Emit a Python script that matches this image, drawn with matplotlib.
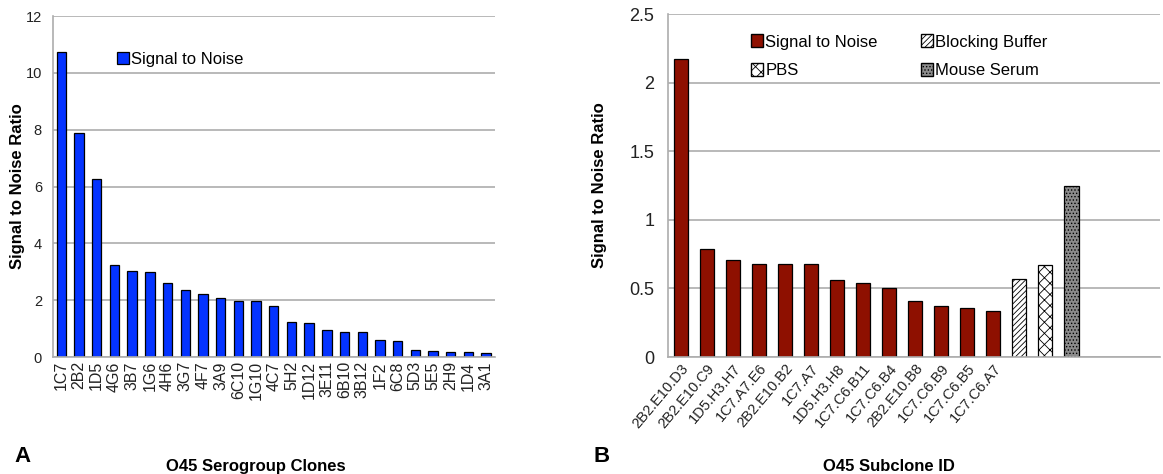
import numpy as np
import matplotlib
matplotlib.use('Agg')
import matplotlib.pyplot as plt
from matplotlib.patches import Patch

plt.rcParams['font.family'] = ['Liberation Sans', 'DejaVu Sans']
plt.rcParams['hatch.linewidth'] = 0.6

# panel A data
clones = ['1C7', '2B2', '1D5', '4G6', '3B7', '1G6', '4H6', '3G7', '4F7', '3A9',
          '6C10', '1G10', '4C7', '5H2', '1D12', '3E11', '6B10', '3B12', '1F2',
          '6C8', '5D3', '5E5', '2H9', '1D4', '3A1']
clone_snr = [10.75, 7.88, 6.28, 3.24, 3.04, 3.0, 2.61, 2.35, 2.23, 2.07,
             1.98, 1.98, 1.81, 1.22, 1.18, 0.94, 0.87, 0.88, 0.6,
             0.56, 0.26, 0.21, 0.19, 0.19, 0.13]

# panel B data
subclones = ['2B2.E10.D3', '2B2.E10.C9', '1D5.H3.H7', '1C7.A7.E6', '2B2.E10.B2',
             '1C7.A7', '1D5.H3.H8', '1C7.C6.B11', '1C7.C6.B4', '2B2.E10.B8',
             '1C7.C6.B9', '1C7.C6.B5', '1C7.C6.A7']
subclone_snr = [2.17, 0.79, 0.705, 0.68, 0.68, 0.68, 0.565, 0.536, 0.505,
                0.41, 0.374, 0.357, 0.338]
controls = ['Blocking Buffer', 'PBS', 'Mouse Serum']
control_snr = [0.57, 0.67, 1.25]

blue = '#0433FF'
red = '#8E1000'
grid_col = '#ADADAD'

fig = plt.figure(figsize=(11.63, 4.74), dpi=100)
ax1 = fig.add_axes([0.0456, 0.2468, 0.38, 0.7194])
ax2 = fig.add_axes([0.5744, 0.2468, 0.4231, 0.7236])


def style_axis(ax):
    ax.set_axisbelow(True)
    ax.yaxis.grid(True, color=grid_col, linewidth=1.2)
    for s in ['top', 'right']:
        ax.spines[s].set_visible(False)
    for s in ['left', 'bottom']:
        ax.spines[s].set_color(grid_col)
        ax.spines[s].set_linewidth(1.2)
    ax.tick_params(length=0, colors='#222222')


# ---- panel A
x1 = np.arange(len(clones))
ax1.bar(x1, clone_snr, width=0.53, color=blue, edgecolor='black', linewidth=0.9,
        label='Signal to Noise')
ax1.set_xlim(-0.47, len(clones) - 0.5)
ax1.set_ylim(0, 12)
ax1.set_yticks(range(0, 13, 2))
ax1.set_xticks(x1)
ax1.set_xticklabels(clones, rotation=90, fontsize=11.5)
ax1.tick_params(axis='y', labelsize=10.5, pad=8)
ax1.tick_params(axis='x', pad=3)
style_axis(ax1)
ax1.set_ylabel('Signal to Noise Ratio', fontsize=12, fontweight='bold')
ax1.yaxis.set_label_coords(-0.063, 0.5)
ax1.legend(loc='upper left', bbox_to_anchor=(0.13, 0.915), frameon=False,
           fontsize=12, handlelength=0.7, handleheight=0.8, handletextpad=0.15,
           borderaxespad=0)

# ---- panel B
x2 = np.arange(len(subclones))
xc = np.arange(len(subclones), len(subclones) + len(controls))
ax2.bar(x2, subclone_snr, width=0.54, color=red, edgecolor='black', linewidth=0.9)
ctrl_style = [dict(facecolor='white', hatch='//////'),
              dict(facecolor='white', hatch='xxx'),
              dict(facecolor='#8C8C8C', hatch='.....')]
for xi, v, st in zip(xc, control_snr, ctrl_style):
    ax2.bar(xi, v, width=0.54, edgecolor='black', linewidth=0.9, **st)
ax2.set_xlim(-0.48, 18.4)
ax2.set_ylim(0, 2.5)
ax2.set_yticks([0, 0.5, 1, 1.5, 2, 2.5])
ax2.set_yticklabels(['0', '0.5', '1', '1.5', '2', '2.5'])
ax2.set_xticks(x2)
ax2.set_xticklabels(subclones, rotation=50, ha='right', rotation_mode='anchor',
                    fontsize=10.5)
ax2.tick_params(axis='y', labelsize=13, pad=10)
ax2.tick_params(axis='x', pad=3)
style_axis(ax2)
ax2.set_ylabel('Signal to Noise Ratio', fontsize=12, fontweight='bold')
ax2.yaxis.set_label_coords(-0.124, 0.5)

handles = [Patch(facecolor=red, edgecolor='black', label='Signal to Noise'),
           Patch(facecolor='white', edgecolor='black', hatch='xxx', label='PBS'),
           Patch(facecolor='white', edgecolor='black', hatch='//////', label='Blocking Buffer'),
           Patch(facecolor='#8C8C8C', edgecolor='black', hatch='.....', label='Mouse Serum')]
ax2.legend(handles=handles, ncol=2, loc='upper left', bbox_to_anchor=(0.155, 0.96),
           frameon=False, fontsize=12, handlelength=0.7, handleheight=0.8,
           handletextpad=0.15, columnspacing=2.6, labelspacing=0.8, borderaxespad=0)

# panel letters and x titles
fig.text(0.012, 0.025, 'A', fontsize=16, fontweight='bold')
fig.text(0.22, 0.006, 'O45 Serogroup Clones', fontsize=12, fontweight='bold', ha='center')
fig.text(0.51, 0.025, 'B', fontsize=16, fontweight='bold')
fig.text(0.764, 0.006, 'O45 Subclone ID', fontsize=12, fontweight='bold', ha='center')

fig.savefig('out.png', dpi=100)
